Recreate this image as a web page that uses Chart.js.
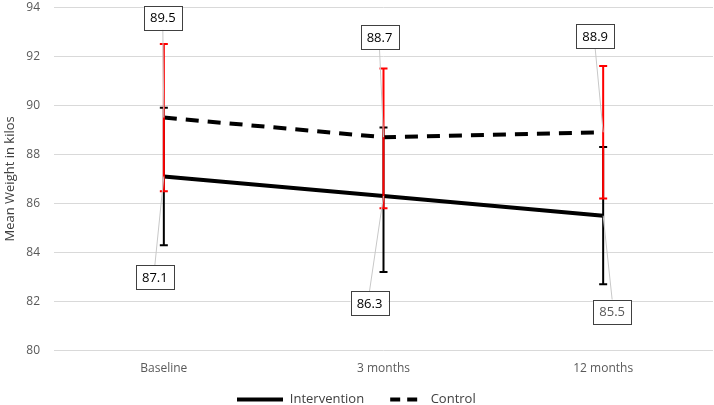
<!DOCTYPE html>
<html>
<head>
<meta charset="utf-8">
<script src="https://cdn.jsdelivr.net/npm/chart.js@4"></script>
<style>
  html, body { margin:0; padding:0; background:#fff; }
  #wrap { width:714px; height:405px; overflow:hidden; position:relative; }
  #myChart { position:absolute; left:0; top:-14px; }
</style>
</head>
<body>
<div id="wrap"><canvas id="myChart" width="714" height="430"></canvas></div>
<script>
// data
const labels = ['Baseline', '3 months', '12 months']
const intervention = [87.1, 86.3, 85.5]
const interventionLow = [84.3, 83.2, 82.7]
const interventionHigh = [89.9, 89.1, 88.3]
const control = [89.5, 88.7, 88.9]
const controlLow = [86.5, 85.8, 86.2]
const controlHigh = [92.5, 91.5, 91.6]
const yTicks = [80, 82, 84, 86, 88, 90, 92, 94]

// where the value boxes sit relative to their point (dx, dy in px)
const ctrlLabelOffset = [[-1, -100], [-4, -100], [-8, -96]]
const intLabelOffset = [[-9, 101], [-14, 107], [9, 96]]

const font = "'Open Sans', 'Liberation Sans', sans-serif"

// little line samples for the legend
function legendLine(dash) {
  const c = document.createElement('canvas')
  c.width = 46; c.height = 6
  const g = c.getContext('2d')
  g.strokeStyle = '#000'
  g.lineWidth = 4
  g.setLineDash(dash)
  g.beginPath()
  g.moveTo(dash.length ? 12 : 0, 3); g.lineTo(46, 3)
  g.stroke()
  return c
}

// error bars + boxed value labels
const extrasPlugin = {
  id: 'extras',
  afterDatasetsDraw(chart) {
    const ctx = chart.ctx
    const x = chart.scales.x
    const y = chart.scales.y

    function bars(lo, hi, color) {
      ctx.save()
      ctx.strokeStyle = color
      ctx.lineWidth = 2
      for (let i = 0; i < labels.length; i++) {
        const px = x.getPixelForValue(i)
        const y1 = y.getPixelForValue(lo[i])
        const y2 = y.getPixelForValue(hi[i])
        ctx.beginPath()
        ctx.moveTo(px, y1); ctx.lineTo(px, y2)
        ctx.moveTo(px - 4, y1); ctx.lineTo(px + 4, y1)
        ctx.moveTo(px - 4, y2); ctx.lineTo(px + 4, y2)
        ctx.stroke()
      }
      ctx.restore()
    }
    bars(interventionLow, interventionHigh, '#000000')
    bars(controlLow, controlHigh, '#ff0000')

    function boxes(vals, offs, colors) {
      ctx.save()
      ctx.font = '13px ' + font
      ctx.textAlign = 'center'
      ctx.textBaseline = 'middle'
      for (let i = 0; i < vals.length; i++) {
        const px = x.getPixelForValue(i)
        const py = y.getPixelForValue(vals[i])
        const cx = px + offs[i][0]
        const cy = py + offs[i][1]
        const w = 38, h = 24
        // leader line
        ctx.strokeStyle = '#c8c8c8'
        ctx.lineWidth = 1
        ctx.beginPath()
        ctx.moveTo(cx, cy + (offs[i][1] < 0 ? h / 2 : -h / 2))
        ctx.lineTo(px, py)
        ctx.stroke()
        // box
        ctx.fillStyle = '#fff'
        ctx.fillRect(cx - w / 2, cy - h / 2, w, h)
        ctx.strokeStyle = '#404040'
        ctx.strokeRect(Math.round(cx - w / 2) + 0.5, Math.round(cy - h / 2) + 0.5, w, h)
        ctx.fillStyle = colors[i]
        ctx.fillText(vals[i].toFixed(1), cx, cy + 1)
      }
      ctx.restore()
    }
    boxes(control, ctrlLabelOffset, ['#000', '#000', '#000'])
    boxes(intervention, intLabelOffset, ['#000', '#000', '#595959'])
  }
}

const data = {
  labels: labels,
  datasets: [{
    label: 'Intervention',
    data: intervention,
    borderColor: '#000',
    backgroundColor: '#000',
    borderWidth: 4,
    pointRadius: 0,
    pointStyle: legendLine([]),
    tension: 0
  }, {
    label: 'Control',
    data: control,
    borderColor: '#000',
    backgroundColor: '#000',
    borderWidth: 4,
    borderDash: [13, 9],
    pointRadius: 0,
    pointStyle: legendLine([10, 7]),
    tension: 0
  }]
}

const config = {
  type: 'line',
  data: data,
  options: {
    responsive: false,
    animation: false,
    layout: { padding: { top: 0, right: 1, bottom: 0, left: 0 } },
    plugins: {
      tooltip: { enabled: false },
      legend: {
        position: 'bottom',
        labels: {
          usePointStyle: true,
          pointStyleWidth: 46,
          boxHeight: 12,
          padding: 14,
          color: '#404040',
          font: { family: font, size: 13 }
        }
      }
    },
    scales: {
      x: {
        offset: true,
        grid: { display: false },
        border: { display: false },
        ticks: { color: '#595959', padding: 3, font: { family: font, size: 12 } }
      },
      y: {
        min: 80,
        max: 94,
        afterBuildTicks: (s) => { s.ticks = yTicks.map(v => ({ value: v })) },
        afterFit: (s) => { s.width = 54 },
        grid: { color: '#d9d9d9', drawTicks: false, lineWidth: 1 },
        border: { display: false },
        ticks: { color: '#595959', padding: 14, font: { family: font, size: 12 } },
        title: { display: true, text: 'Mean Weight in kilos', color: '#404040', font: { family: font, size: 13 }, padding: 2 }
      }
    }
  },
  plugins: [extrasPlugin]
}

const myChart = new Chart(document.getElementById('myChart'), config)
</script>
</body>
</html>
